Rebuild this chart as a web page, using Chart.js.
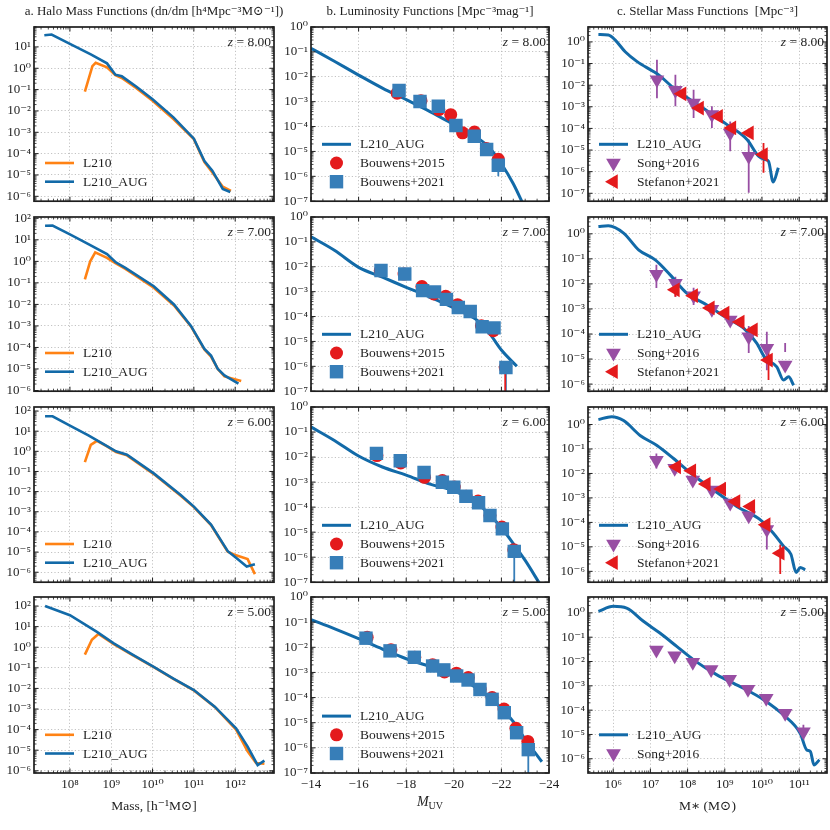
<!DOCTYPE html>
<html>
<head>
<meta charset="utf-8">
<title>Halo, luminosity and stellar mass functions</title>
<script src="https://cdn.jsdelivr.net/npm/chart.js@4.4.1/dist/chart.umd.min.js"></script>
<style>
  html, body { margin: 0; padding: 0; background: #fff; width: 830px; height: 830px; overflow: hidden; position: relative; }
</style>
</head>
<body>
<script>
// ---- data ----
const redshifts = ['8.00', '7.00', '6.00', '5.00'];

// a. halo mass functions  (mass in h^-1 Msun, dn/dm)
const hmfAugMassZ8 = [2.4e7, 3.6e7, 1e8, 3.2e8, 7.9e8, 1.26e9, 1.8e9, 4e9, 1e10, 3.2e10, 1e11, 1.8e11, 2.8e11, 5e11, 7.6e11];
const hmfAugZ8 = [35, 38, 14, 4.5, 1.7, 0.5, 0.42, 0.14, 0.035, 5e-3, 5e-4, 4.5e-5, 1.6e-5, 2.2e-6, 1.6e-6];
const hmfL210MassZ8 = [2.3e8, 3.5e8, 4.2e8, 7.9e8, 1.26e9, 1.8e9, 4e9, 1e10, 3.2e10, 1e11, 1.8e11, 2.8e11, 5e11, 7.9e11];
const hmfL210Z8 = [0.08, 1.26, 1.8, 1.1, 0.48, 0.35, 0.12, 0.03, 4.2e-3, 4.8e-4, 4e-5, 1.3e-5, 2.8e-6, 1.8e-6];

const hmfAugMassZ7 = [2.5e7, 3.8e7, 1e8, 2.8e8, 7.9e8, 1.26e9, 2.2e9, 1.07e10, 3.3e10, 8.5e10, 1.8e11, 2.6e11, 3.8e11, 5.5e11, 1.2e12];
const hmfAugZ7 = [45, 46, 18, 6.3, 2.2, 0.93, 0.5, 0.07, 0.01, 1e-3, 8.5e-5, 4.2e-5, 1e-5, 5e-6, 2.1e-6];
const hmfL210MassZ7 = [2.3e8, 3.1e8, 4.1e8, 7.9e8, 1.26e9, 2.2e9, 1.07e10, 3.3e10, 8.5e10, 1.8e11, 2.6e11, 3.8e11, 5.5e11, 1.4e12];
const hmfL210Z7 = [0.145, 1.0, 2.6, 1.45, 0.83, 0.45, 0.06, 8.9e-3, 9.5e-4, 8e-5, 3.8e-5, 1e-5, 4.5e-6, 2.8e-6];

const hmfAugMassZ6 = [2.5e7, 3.8e7, 1e8, 2.8e8, 7.9e8, 1.3e9, 2.4e9, 1.07e10, 4.8e10, 1e11, 2.6e11, 6.6e11, 1.05e12, 1.9e12, 3e12];
const hmfAugZ6 = [55, 55, 19, 6.2, 1.8, 1.0, 0.68, 0.08, 6.8e-3, 1.8e-3, 2.3e-4, 1.1e-5, 5.2e-6, 1.9e-6, 2.5e-6];
const hmfL210MassZ6 = [2.3e8, 3.2e8, 4.5e8, 7.9e8, 1.3e9, 2.4e9, 1.07e10, 4.8e10, 1e11, 2.6e11, 6.6e11, 1.05e12, 2e12, 3e12];
const hmfL210Z6 = [0.29, 2.1, 3.3, 1.75, 0.93, 0.63, 0.074, 6.3e-3, 1.7e-3, 2.2e-4, 1.05e-5, 6.9e-6, 4.5e-6, 8.1e-7];

const hmfAugMassZ5 = [2.5e7, 1e8, 4.5e8, 1.15e9, 3.2e9, 1.07e10, 3.2e10, 1e11, 3.2e11, 1.05e12, 2e12, 3.5e12, 5.1e12];
const hmfAugZ5 = [100, 36, 5.6, 1.55, 0.45, 0.11, 0.03, 8.3e-3, 1.3e-3, 1.15e-4, 1.5e-5, 1.9e-6, 3.1e-6];
const hmfL210MassZ5 = [2.3e8, 3.4e8, 4.9e8, 1.15e9, 3.2e9, 1.07e10, 3.2e10, 1e11, 3.2e11, 1.05e12, 2e12, 3.2e12, 5.1e12];
const hmfL210Z5 = [0.44, 2.3, 4.4, 1.4, 0.43, 0.107, 0.029, 8e-3, 1.26e-3, 1e-4, 8.7e-6, 2.4e-6, 2.2e-6];

// b. UV luminosity functions  (M_UV, Mpc^-3 mag^-1)
const lfMuvZ8 = [-14, -15, -16, -17, -18, -19, -20, -21, -21.5, -22, -22.5, -23];
const lfAugZ8 = [0.14, 0.041, 0.0117, 3.5e-3, 1.2e-3, 4e-4, 1.2e-4, 3.5e-5, 1.4e-5, 3.2e-6, 5e-7, 5e-8];
const lfMuvZ7 = [-14, -15, -16, -17, -18, -19, -20, -21, -21.5, -22, -22.65];
const lfAugZ7 = [0.16, 0.045, 0.0095, 3.8e-3, 1.5e-3, 6e-4, 2.2e-4, 6.9e-5, 2.1e-5, 4.5e-6, 1e-6];
const lfMuvZ6 = [-14, -15, -16, -17, -18, -19, -20, -21, -21.5, -22, -22.5, -23, -23.6];
const lfAugZ6 = [0.16, 0.045, 0.011, 4e-3, 1.9e-3, 8.3e-4, 4.5e-4, 1.4e-4, 5e-5, 1.5e-5, 3.5e-6, 7.4e-7, 9e-8];
const lfMuvZ5 = [-14, -15, -16, -17, -18, -19, -20, -21, -22, -22.5, -23, -23.7];
const lfAugZ5 = [0.126, 0.054, 0.022, 8.5e-3, 3.5e-3, 1.74e-3, 8.5e-4, 2.2e-4, 3.8e-5, 1.1e-5, 2.2e-6, 2.8e-7];

const b15MuvZ8 = [-17.62, -18.62, -19.37, -19.87, -20.37, -20.87, -21.37, -21.87];
const b15Z8 = [2.2e-3, 1.1e-3, 4.8e-4, 3e-4, 5.6e-5, 6e-5, 1.3e-5, 4.8e-6];
const b21MuvZ8 = [-17.7, -18.58, -19.35, -20.09, -20.86, -21.38, -21.87];
const b21Z8 = [2.8e-3, 1.02e-3, 6.5e-4, 1.1e-4, 4.1e-5, 1.2e-5, 2.8e-6];
const b21LoZ8 = [null, null, null, null, null, null, 1e-6];
const b21HiZ8 = [null, null, null, null, null, null, 4e-6];

const b15MuvZ7 = [-16.91, -17.91, -18.66, -19.16, -19.66, -20.16, -20.66, -21.16, -21.66, -22.16];
const b15Z7 = [7e-3, 5.1e-3, 1.6e-3, 8.1e-4, 6.5e-4, 3e-4, 1.6e-4, 4.3e-5, 2.7e-5, 8.9e-7];
const b15LoZ7 = [null, null, null, null, null, null, null, null, null, 1e-9];
const b15HiZ7 = [null, null, null, null, null, null, null, null, null, 1.6e-6];
const b21MuvZ7 = [-16.94, -17.94, -18.69, -19.19, -19.69, -20.19, -20.69, -21.19, -21.69, -22.19];
const b21Z7 = [7.1e-3, 5.1e-3, 1.1e-3, 9.8e-4, 4.9e-4, 2.3e-4, 1.6e-4, 3.9e-5, 3.5e-5, 8.9e-7];

const b15MuvZ6 = [-16.77, -17.77, -18.77, -19.52, -20.02, -20.52, -21.02, -21.52, -22.02, -22.52];
const b15Z6 = [0.0115, 5.8e-3, 1.55e-3, 1.15e-3, 6.3e-4, 2.7e-4, 1.74e-4, 4.6e-5, 1.6e-5, 2e-6];
const b21MuvZ6 = [-16.75, -17.75, -18.75, -19.52, -20.0, -20.51, -21.04, -21.52, -22.04, -22.54];
const b21Z6 = [0.014, 7.1e-3, 2.4e-3, 9.8e-4, 6.2e-4, 2.7e-4, 1.5e-4, 4.6e-5, 1.35e-5, 1.7e-6];
const b21LoZ6 = [null, null, null, null, null, null, null, null, null, 1e-9];
const b21HiZ6 = [null, null, null, null, null, null, null, null, null, 1.7e-6];

const b15MuvZ5 = [-16.36, -17.36, -18.36, -19.11, -19.61, -20.11, -20.61, -21.11, -21.61, -22.11, -22.61, -23.11];
const b15Z5 = [0.025, 7.9e-3, 4e-3, 2e-3, 1.05e-3, 9.3e-4, 6.3e-4, 2.1e-4, 1e-4, 3.5e-5, 6e-6, 1.8e-6];
const b21MuvZ5 = [-16.31, -17.32, -18.34, -19.11, -19.58, -20.12, -20.6, -21.1, -21.61, -22.12, -22.64, -23.13];
const b21Z5 = [0.023, 7.2e-3, 4e-3, 1.8e-3, 1.26e-3, 7.2e-4, 5e-4, 2.1e-4, 8.5e-5, 2.5e-5, 4e-6, 8.5e-7];
const b21LoZ5 = [null, null, null, null, null, null, null, null, null, null, 2.5e-6, 1e-9];
const b21HiZ5 = [null, null, null, null, null, null, null, null, null, null, 4e-6, 8.5e-7];

// c. stellar mass functions  (M* in Msun, Mpc^-3)
const smfMassZ8 = [4e5, 7.4e5, 1.12e6, 2.1e6, 4.4e6, 1.2e7, 1.8e7, 4.2e7, 2.2e8, 1.15e9, 4e9, 8.1e9, 1.23e10, 1.5e10, 2e10, 2.75e10];
const smfAugZ8 = [2.2, 2.1, 1.25, 0.35, 0.123, 0.043, 0.027, 7.4e-3, 1.05e-3, 1.5e-4, 3e-5, 5.2e-6, 3.6e-6, 3e-6, 3.3e-7, 1.5e-6];
const smfMassZ7 = [4e5, 7.4e5, 1.9e6, 4.8e6, 1.35e7, 3.4e7, 9.5e7, 3.3e8, 1.15e9, 3.2e9, 7.2e9, 1.23e10, 2.5e10, 3.8e10, 5.2e10, 7.1e10];
const smfAugZ7 = [1.95, 2.1, 1.07, 0.23, 0.091, 0.023, 4.3e-3, 1.45e-3, 4.3e-4, 1.7e-4, 4.3e-5, 1.07e-5, 4.9e-6, 1.45e-6, 1.95e-6, 9e-7];
const smfMassZ6 = [4e5, 9.1e5, 1.9e6, 5.4e6, 1.5e7, 4.2e7, 1.3e8, 5e8, 2.1e9, 8.9e9, 2e10, 3.8e10, 6e10, 8.3e10, 1.07e11, 1.45e11];
const smfAugZ6 = [1.58, 2.1, 1.45, 0.35, 0.14, 0.041, 9.5e-3, 2.1e-3, 4.5e-4, 1.3e-4, 3.7e-5, 1.07e-5, 5e-6, 9e-7, 1.45e-6, 1.15e-6];
const smfMassZ5 = [4e5, 1e6, 2.3e6, 6.5e6, 1.8e7, 5.1e7, 1.45e8, 6e8, 2.6e9, 1.1e10, 3.8e10, 1.07e11, 1.6e11, 2e11, 2.5e11, 3.5e11];
const smfAugZ5 = [1.15, 1.86, 1.58, 0.45, 0.148, 0.042, 0.0117, 2.9e-3, 9.3e-4, 2.7e-4, 6.3e-5, 1.1e-5, 2.3e-6, 2e-6, 5.6e-7, 9.1e-7];

const songMassZ8 = [1.5e7, 4.7e7, 1.45e8, 4.5e8, 1.4e9, 4.4e9];
const songZ8 = [0.0178, 5.8e-3, 1.48e-3, 4.4e-4, 6.2e-5, 5.2e-6];
const songLoZ8 = [2.5e-3, 1.05e-3, 3e-4, 1.05e-4, 8.9e-6, 1.07e-7];
const songHiZ8 = [0.148, 0.03, 6.2e-3, 1.05e-3, 2.1e-4, 3.1e-5];
const stefMassZ8 = [7.1e7, 2.1e8, 6.8e8, 1.55e9, 4.6e9, 1.1e10];
const stefZ8 = [4e-3, 8.7e-4, 3.6e-4, 1.05e-4, 6.2e-5, 6.2e-6];
const stefLoZ8 = [null, null, null, null, null, 8.9e-7];
const stefHiZ8 = [null, null, null, null, null, 2.1e-5];

const songMassZ7 = [1.45e7, 4.7e7, 1.45e8, 4.5e8, 1.4e9, 4.4e9, 1.35e10, 4.2e10];
const songZ7 = [0.0245, 0.0107, 3.4e-3, 9.8e-4, 3.6e-4, 7.8e-5, 2.7e-5, 5.8e-6];
const songLoZ7 = [6.8e-3, 3.1e-3, 1.45e-3, null, null, 1.74e-5, 3.6e-6, 1.9e-5];
const songHiZ7 = [0.058, 0.0195, 7.1e-3, null, null, 2.1e-4, 1.23e-4, 4.4e-5];
const stefMassZ7 = [4.7e7, 1.45e8, 4.1e8, 1.02e9, 2.6e9, 5.9e9, 1.5e10];
const stefZ7 = [5.8e-3, 3.4e-3, 1.1e-3, 6.8e-4, 3e-4, 1.45e-4, 9.1e-6];
const stefLoZ7 = [3.1e-3, null, null, null, null, null, 1.45e-6];
const stefHiZ7 = [0.0107, null, null, null, null, null, 1.95e-5];

const songMassZ6 = [1.45e7, 4.5e7, 1.38e8, 4.5e8, 1.4e9, 4.4e9, 1.35e10];
const songZ6 = [0.035, 0.0162, 5.4e-3, 2.1e-3, 6.2e-4, 1.86e-4, 5.1e-5];
const songLoZ6 = [0.0158, null, null, null, null, null, 7.9e-6];
const songHiZ6 = [0.065, null, null, null, null, null, 9.5e-5];
const stefMassZ6 = [5.1e7, 1.3e8, 3.2e8, 8.3e8, 2e9, 5e9, 1.3e10, 3.1e10];
const stefZ6 = [0.0186, 0.0129, 3.7e-3, 2.3e-3, 7.1e-4, 4.5e-4, 8.1e-5, 5.5e-6];
const stefLoZ6 = [null, null, null, null, null, null, null, 7.8e-7];
const stefHiZ6 = [null, null, null, null, null, null, null, 1.26e-5];

const songMassZ5 = [1.45e7, 4.5e7, 1.38e8, 4.3e8, 1.35e9, 4.2e9, 1.3e10, 4.2e10, 1.3e11];
const songZ5 = [0.03, 0.0174, 9.3e-3, 4.7e-3, 1.86e-3, 7.2e-4, 3.1e-4, 7.4e-5, 1.3e-5];
const songLoZ5 = [null, null, null, null, null, null, null, 4e-5, 5.9e-6];
const songHiZ5 = [null, null, null, null, null, null, null, 7.4e-5, 2.5e-5];

// tick labels
const haloMassTicks = [1e8, 1e9, 1e10, 1e11, 1e12];
const stellarMassTicks = [1e6, 1e7, 1e8, 1e9, 1e10, 1e11];
const muvTicks = [-14, -16, -18, -20, -22, -24];
const densityTicks = [1e-7, 1e-6, 1e-5, 1e-4, 1e-3, 1e-2, 1e-1, 1, 10, 100];

// ---- styling / layout ----
const FONT = "'Liberation Serif', 'Times New Roman', 'DejaVu Serif', serif";
const INK = '#1e1e1e';
const BLUE = '#126aa8';
const ORANGE = '#ff8214';
const RED = '#e41a1c';
const SQUARE = '#377eb8';
const PURPLE = '#984ea3';

Chart.defaults.font.family = FONT;
Chart.defaults.color = INK;

const colLeft = [34, 311, 588];
const colRight = [274, 549, 827];
const rowTop = [27, 217, 407, 597];
const rowBottom = [202, 392, 583, 773];
const axisW = [34, 36, 36];

const colTitles = [
  'a. Halo Mass Functions (dn/dm [h\u2074Mpc\u207B\u00B3M\u2299\u207B\u00B9])',
  'b. Luminosity Functions [Mpc\u207B\u00B3mag\u207B\u00B9]',
  'c. Stellar Mass Functions  [Mpc\u207B\u00B3]'
];
const xTitles = ['Mass, [h\u207B\u00B9M\u2299]', '', 'M\u2217 (M\u2299)'];

const SUP = { '-': '\u207B', '0': '\u2070', '1': '\u00B9', '2': '\u00B2', '3': '\u00B3', '4': '\u2074',
  '5': '\u2075', '6': '\u2076', '7': '\u2077', '8': '\u2078', '9': '\u2079' };
function pow10Label(v) {
  const e = Math.round(Math.log10(v));
  return '10' + String(e).replace(/./g, c => SUP[c]);
}

function pts(xs, ys) {
  return xs.map((x, i) => ({ x: x, y: ys[i] }));
}

function curve(label, xs, ys, color, width, smooth, order) {
  return {
    label, data: pts(xs, ys), showLine: true, borderColor: color, backgroundColor: color,
    borderWidth: width, pointRadius: 0, tension: 0, order,
    cubicInterpolationMode: smooth ? 'monotone' : 'default'
  };
}

function marks(label, xs, ys, color, style, rot, r, order, lo, hi) {
  return {
    label, data: pts(xs, ys), showLine: false, pointStyle: style, pointRotation: rot,
    pointRadius: r, backgroundColor: color, borderColor: color, pointBorderWidth: 0,
    order, errLo: lo, errHi: hi
  };
}

function drawMarker(ctx, style, r, rot, x, y) {
  ctx.save();
  ctx.translate(x, y);
  ctx.rotate(rot * Math.PI / 180);
  ctx.beginPath();
  if (style === 'circle') {
    ctx.arc(0, 0, r, 0, Math.PI * 2);
  } else if (style === 'rect') {
    const s = r * Math.SQRT1_2;
    ctx.rect(-s, -s, 2 * s, 2 * s);
  } else {
    for (let k = 0; k < 3; k++) {
      const t = k * 2 * Math.PI / 3;
      ctx[k ? 'lineTo' : 'moveTo'](Math.sin(t) * r, -Math.cos(t) * r);
    }
    ctx.closePath();
  }
  ctx.fill();
  ctx.restore();
}

function tickValues(scale) {
  const out = [];
  if (scale.type === 'logarithmic') {
    const e0 = Math.floor(Math.log10(scale.min)), e1 = Math.ceil(Math.log10(scale.max));
    for (let e = e0; e <= e1; e++) {
      for (let k = 1; k <= 9; k++) out.push({ v: k * Math.pow(10, e), major: k === 1 });
    }
  } else {
    for (let v = scale.min; v <= scale.max + 1e-9; v += 0.5) out.push({ v, major: Math.abs(v % 2) < 1e-9 });
  }
  return out;
}

// frame, inward ticks, error bars, legend and labels
const panelDeco = {
  id: 'panelDeco',
  beforeDatasetsDraw(chart) {
    const { ctx, chartArea: a, scales: { x, y } } = chart;
    ctx.save();
    ctx.beginPath();
    ctx.rect(a.left, a.top, a.right - a.left, a.bottom - a.top);
    ctx.clip();
    chart.data.datasets.forEach(ds => {
      if (!ds.errLo) return;
      ctx.strokeStyle = ds.backgroundColor;
      ctx.lineWidth = 1.8;
      ctx.beginPath();
      ds.data.forEach((p, i) => {
        if (ds.errLo[i] == null) return;
        const px = x.getPixelForValue(p.x);
        ctx.moveTo(px, y.getPixelForValue(ds.errLo[i]));
        ctx.lineTo(px, y.getPixelForValue(ds.errHi[i]));
      });
      ctx.stroke();
    });
    ctx.restore();
  },
  afterDraw(chart, args, o) {
    const { ctx, chartArea: a, scales: { x, y } } = chart;
    ctx.save();
    ctx.strokeStyle = INK;
    tickValues(x).forEach(t => {
      const px = x.getPixelForValue(t.v);
      if (px < a.left - 0.5 || px > a.right + 0.5) return;
      const len = t.major ? 4.5 : 2.5;
      ctx.lineWidth = t.major ? 1 : 0.8;
      ctx.beginPath();
      ctx.moveTo(px, a.bottom); ctx.lineTo(px, a.bottom - len);
      ctx.moveTo(px, a.top); ctx.lineTo(px, a.top + len);
      ctx.stroke();
    });
    tickValues(y).forEach(t => {
      const py = y.getPixelForValue(t.v);
      if (py < a.top - 0.5 || py > a.bottom + 0.5) return;
      const len = t.major ? 4.5 : 2.5;
      ctx.lineWidth = t.major ? 1 : 0.8;
      ctx.beginPath();
      ctx.moveTo(a.left, py); ctx.lineTo(a.left + len, py);
      ctx.moveTo(a.right, py); ctx.lineTo(a.right - len, py);
      ctx.stroke();
    });
    ctx.lineWidth = 1.7;
    ctx.strokeRect(a.left, a.top, a.right - a.left, a.bottom - a.top);

    // redshift label
    ctx.fillStyle = INK;
    ctx.textBaseline = 'middle';
    ctx.font = '13.5px ' + FONT;
    const rest = ' = ' + o.z;
    const wRest = ctx.measureText(rest).width;
    ctx.fillText(rest, a.right - 3 - wRest, a.top + 15);
    ctx.font = 'italic 13.5px ' + FONT;
    const wz = ctx.measureText('z').width;
    ctx.fillText('z', a.right - 3 - wRest - wz, a.top + 15);

    // legend
    const n = o.legend.length;
    o.legend.forEach((idx, k) => {
      const ds = chart.data.datasets[idx];
      const ly = a.bottom - 19.5 - (n - 1 - k) * 18.7;
      if (ds.showLine) {
        ctx.strokeStyle = ds.borderColor;
        ctx.lineWidth = ds.borderWidth;
        ctx.beginPath();
        ctx.moveTo(a.left + 11, ly); ctx.lineTo(a.left + 40, ly);
        ctx.stroke();
      } else {
        ctx.fillStyle = ds.backgroundColor;
        drawMarker(ctx, ds.pointStyle, ds.pointRadius, ds.pointRotation, a.left + 25.5, ly);
      }
      ctx.fillStyle = INK;
      ctx.font = '13.5px ' + FONT;
      ctx.fillText(ds.label, a.left + 49, ly + 0.5);
    });

    // M_UV axis label
    if (o.muvLabel) {
      ctx.textBaseline = 'alphabetic';
      ctx.font = 'italic 14px ' + FONT;
      const wM = ctx.measureText('M').width;
      ctx.font = '10px ' + FONT;
      const wU = ctx.measureText('UV').width;
      const x0 = (a.left + a.right) / 2 - (wM + wU) / 2;
      ctx.font = 'italic 14px ' + FONT;
      ctx.fillText('M', x0, a.bottom + 33);
      ctx.font = '10px ' + FONT;
      ctx.fillText('UV', x0 + wM, a.bottom + 36);
    }
    ctx.restore();
  }
};

const gridOpts = { color: '#b4b4b4', lineWidth: 0.8, drawTicks: false };
const borderOpts = { display: false, dash: [1.2, 2.2] };

function xAxis(col, bottom) {
  const base = {
    position: 'bottom', grid: gridOpts, border: borderOpts,
    afterFit: s => { s.height = bottom ? 44 : 0; },
    ticks: { display: bottom, font: { size: 13 }, padding: 4, maxRotation: 0, autoSkip: false },
    title: { display: bottom && col !== 1, text: xTitles[col], font: { size: 13.5 }, padding: { top: 0, bottom: 2 } }
  };
  if (col === 1) {
    return Object.assign(base, {
      type: 'linear', min: -24, max: -14, reverse: true,
      afterBuildTicks: s => { s.ticks = muvTicks.map(v => ({ value: v })); },
      ticks: Object.assign({}, base.ticks, { callback: v => '\u2212' + Math.abs(v) })
    });
  }
  const tv = col === 0 ? haloMassTicks : stellarMassTicks;
  return Object.assign(base, {
    type: 'logarithmic',
    min: col === 0 ? 1.35e7 : 2.1e5,
    max: col === 0 ? 8.7e12 : 5.6e11,
    afterBuildTicks: s => { s.ticks = tv.map(v => ({ value: v })); },
    ticks: Object.assign({}, base.ticks, { callback: v => pow10Label(v) })
  });
}

function yAxis(col, min, max) {
  return {
    type: 'logarithmic', position: 'left', min, max,
    grid: gridOpts, border: borderOpts,
    afterFit: s => { s.width = axisW[col]; },
    afterBuildTicks: s => {
      s.ticks = densityTicks.filter(v => v >= min * 0.999 && v <= max * 1.001).map(v => ({ value: v }));
    },
    ticks: { callback: v => pow10Label(v), font: { size: 13 }, padding: 3, autoSkip: false }
  };
}

// empty right-hand axis of the same width, so the title centres over the plot
function spacerAxis(col) {
  return {
    type: 'linear', position: 'right', display: true,
    grid: { display: false, drawTicks: false }, border: { display: false },
    ticks: { display: false },
    afterFit: s => { s.width = axisW[col]; }
  };
}

function makePanel(row, col, datasets, yMin, yMax, legend) {
  const yW = axisW[col];
  const left = colLeft[col] - yW;
  const top = row === 0 ? 0 : rowTop[row] - 12;
  const w = yW * 2 + colRight[col] - colLeft[col];
  const h = rowBottom[row] - top + (row === 3 ? 48 : 10);
  const canvas = document.createElement('canvas');
  canvas.width = w;
  canvas.height = h;
  canvas.style.cssText = 'position:absolute;left:' + left + 'px;top:' + top + 'px;width:' + w + 'px;height:' + h + 'px';
  document.body.appendChild(canvas);

  new Chart(canvas, {
    type: 'scatter',
    data: { datasets },
    options: {
      responsive: false,
      animation: false,
      events: [],
      layout: { padding: { left: 0, right: 0, top: row === 0 ? 0 : 12, bottom: row === 3 ? 4 : 10 } },
      scales: { x: xAxis(col, row === 3), y: yAxis(col, yMin, yMax), spacer: spacerAxis(col) },
      plugins: {
        legend: { display: false },
        tooltip: { enabled: false },
        title: {
          display: row === 0, text: colTitles[col], color: INK,
          font: { size: 13, weight: 'normal' }, padding: { top: 4, bottom: 7.4 }
        },
        panelDeco: { z: redshifts[row], legend, muvLabel: col === 1 && row === 3 }
      }
    },
    plugins: [panelDeco]
  });
}

// ---- panels ----
const haloSets = [
  [hmfAugMassZ8, hmfAugZ8, hmfL210MassZ8, hmfL210Z8, 5.9e-7, 86],
  [hmfAugMassZ7, hmfAugZ7, hmfL210MassZ7, hmfL210Z7, 9.3e-7, 115],
  [hmfAugMassZ6, hmfAugZ6, hmfL210MassZ6, hmfL210Z6, 3.2e-7, 158],
  [hmfAugMassZ5, hmfAugZ5, hmfL210MassZ5, hmfL210Z5, 7.8e-7, 275]
];
haloSets.forEach((s, row) => {
  makePanel(row, 0, [
    curve('L210_AUG', s[0], s[1], BLUE, 2.6, false, 0),
    curve('L210', s[2], s[3], ORANGE, 2.6, false, 1)
  ], s[4], s[5], [1, 0]);
});

const lfSets = [
  [lfMuvZ8, lfAugZ8, b15MuvZ8, b15Z8, null, null, b21MuvZ8, b21Z8, b21LoZ8, b21HiZ8],
  [lfMuvZ7, lfAugZ7, b15MuvZ7, b15Z7, b15LoZ7, b15HiZ7, b21MuvZ7, b21Z7, b15LoZ7, b15HiZ7],
  [lfMuvZ6, lfAugZ6, b15MuvZ6, b15Z6, null, null, b21MuvZ6, b21Z6, b21LoZ6, b21HiZ6],
  [lfMuvZ5, lfAugZ5, b15MuvZ5, b15Z5, null, null, b21MuvZ5, b21Z5, b21LoZ5, b21HiZ5]
];
lfSets.forEach((s, row) => {
  makePanel(row, 1, [
    marks('Bouwens+2021', s[6], s[7], SQUARE, 'rect', 0, 9.5, 0, s[8], s[9]),
    marks('Bouwens+2015', s[2], s[3], RED, 'circle', 0, 6.5, 1, s[4], s[5]),
    curve('L210_AUG', s[0], s[1], BLUE, 3, true, 2)
  ], 1e-7, 1, [2, 1, 0]);
});

const smfSets = [
  [smfMassZ8, smfAugZ8, songMassZ8, songZ8, songLoZ8, songHiZ8, stefMassZ8, stefZ8, stefLoZ8, stefHiZ8, 4.3e-8, 4.9],
  [smfMassZ7, smfAugZ7, songMassZ7, songZ7, songLoZ7, songHiZ7, stefMassZ7, stefZ7, stefLoZ7, stefHiZ7, 5.2e-7, 4.7],
  [smfMassZ6, smfAugZ6, songMassZ6, songZ6, songLoZ6, songHiZ6, stefMassZ6, stefZ6, stefLoZ6, stefHiZ6, 3.6e-7, 5.2],
  [smfMassZ5, smfAugZ5, songMassZ5, songZ5, songLoZ5, songHiZ5, null, null, null, null, 2.6e-7, 4.5]
];
smfSets.forEach((s, row) => {
  const sets = [
    marks('Song+2016', s[2], s[3], PURPLE, 'triangle', 180, 8.5, 1, s[4], s[5]),
    curve('L210_AUG', s[0], s[1], BLUE, 3, true, 2)
  ];
  let legend = [1, 0];
  if (s[6]) {
    sets.push(marks('Stefanon+2021', s[6], s[7], RED, 'triangle', -90, 8.5, 0, s[8], s[9]));
    legend = [1, 0, 2];
  }
  makePanel(row, 2, sets, s[10], s[11], legend);
});
</script>
</body>
</html>
